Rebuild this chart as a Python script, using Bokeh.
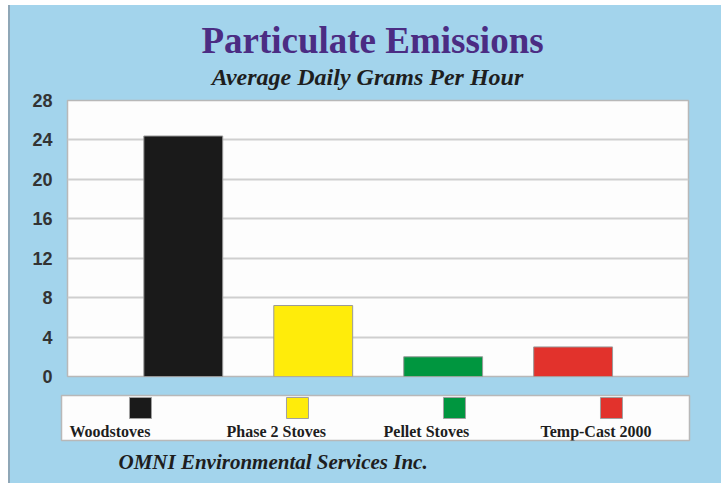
from bokeh.plotting import figure
from bokeh.layouts import column, row
from bokeh.models import ColumnDataSource, FixedTicker, Range1d, Div
from bokeh.core.properties import value
from bokeh.embed import file_html
from bokeh.resources import INLINE

# ---- data ----
categories = ["Woodstoves", "Phase 2 Stoves", "Pellet Stoves", "Temp-Cast 2000"]
emissions = [24.4, 7.2, 2.0, 3.0]
y_ticks = [0, 4, 8, 12, 16, 20, 24, 28]
title_text = "Particulate Emissions"
subtitle_text = "Average Daily Grams Per Hour"
footer_text = "OMNI Environmental Services Inc."

# ---- styles ----
bar_colors = ["#1A1A1A", "#FFEC0A", "#00963F", "#E2322C"]
BLUE = "#A3D4EC"
W = 711

def blank(height, bg=BLUE):
    f = figure(width=W, height=height, output_backend="svg", toolbar_location=None,
               x_axis_location=None, y_axis_location=None,
               x_range=Range1d(0, W), y_range=Range1d(0, height),
               min_border=0, min_border_left=0, min_border_right=0,
               min_border_top=0, min_border_bottom=0, frame_align=False)
    f.background_fill_color = bg
    f.border_fill_color = BLUE
    f.outline_line_color = None
    f.grid.visible = False
    return f

# ---- header ----
header = blank(87)
header.text(x=[362], y=[52], text=[title_text], text_font=value("Liberation Serif"),
            text_font_style="bold", text_font_size="37px", text_color="#4B2C83",
            text_align="center", text_baseline="alphabetic")
header.text(x=[357], y=[16], text=[subtitle_text], text_font=value("Liberation Serif"),
            text_font_style="bold italic", text_font_size="24px", text_color="#1E1E1E",
            text_align="center", text_baseline="alphabetic")

# ---- main chart ----
positions = list(range(1, len(categories) + 1))
src = ColumnDataSource(dict(x=positions, top=emissions, color=bar_colors, cat=categories))
p = figure(width=W, height=294, output_backend="svg", toolbar_location=None,
           x_range=Range1d(0.109, 4.888), y_range=Range1d(0, 28),
           x_axis_location=None, frame_align=False,
           min_border_left=57, min_border_right=33, min_border_top=8, min_border_bottom=10)
p.background_fill_color = "#FDFDFD"
p.border_fill_color = BLUE
p.outline_line_color = "#B8B8B8"
p.outline_line_width = 1.5
p.vbar(x="x", top="top", width=0.607, bottom=0, fill_color="color",
       line_color="#9A9A9A", line_width=1, source=src)
p.xgrid.visible = False
p.ygrid.grid_line_color = "#CFCFCF"
p.ygrid.grid_line_width = 2
p.yaxis.ticker = FixedTicker(ticks=y_ticks)
p.yaxis.axis_line_color = None
p.yaxis.major_tick_line_color = None
p.yaxis.minor_tick_line_color = None
p.yaxis.major_label_standoff = 9
p.yaxis.major_label_text_font = "Liberation Sans"
p.yaxis.major_label_text_font_style = "bold"
p.yaxis.major_label_text_font_size = "18px"
p.yaxis.major_label_text_color = "#333333"

# ---- legend box ----
item_idx = list(range(len(categories)))
lg = figure(width=W, height=61, output_backend="svg", toolbar_location=None,
            x_axis_location=None, y_axis_location=None, frame_align=False,
            x_range=Range1d(-0.051, 3.949), y_range=Range1d(0, 45),
            min_border_left=51, min_border_right=32, min_border_top=9, min_border_bottom=7)
lg.background_fill_color = "#FDFDFD"
lg.border_fill_color = BLUE
lg.outline_line_color = "#B8B8B8"
lg.outline_line_width = 1.5
lg.grid.visible = False
lsrc = ColumnDataSource(dict(tx=item_idx, sx=[i + 0.452 for i in item_idx],
                             cat=categories, color=bar_colors))
lg.rect(x="sx", y=32.5, width=22, height=21, width_units="screen", height_units="screen",
        fill_color="color", line_color="#A0A0A0", line_width=1, source=lsrc)
lg.text(x="tx", y=9, text="cat", text_font=value("Liberation Serif"),
        text_font_style="bold", text_font_size="16px", text_color="#1E1E1E",
        text_align="left", text_baseline="alphabetic", source=lsrc)

# ---- footer ----
footer = blank(36)
footer.text(x=[108], y=[22], text=[footer_text], text_font=value("Liberation Serif"),
            text_font_style="bold italic", text_font_size="21px", text_color="#1E1E1E",
            text_align="left", text_baseline="alphabetic")

stack = column(header, p, lg, footer, spacing=0, styles={"background-color": BLUE})
edge = Div(text="", width=2, height=478, margin=0, styles={"background-color": "#8FA7B7"})
layout = row(edge, stack, spacing=0, margin=(5, 0, 0, 8))
open("out.html", "w").write(file_html(layout, INLINE))
